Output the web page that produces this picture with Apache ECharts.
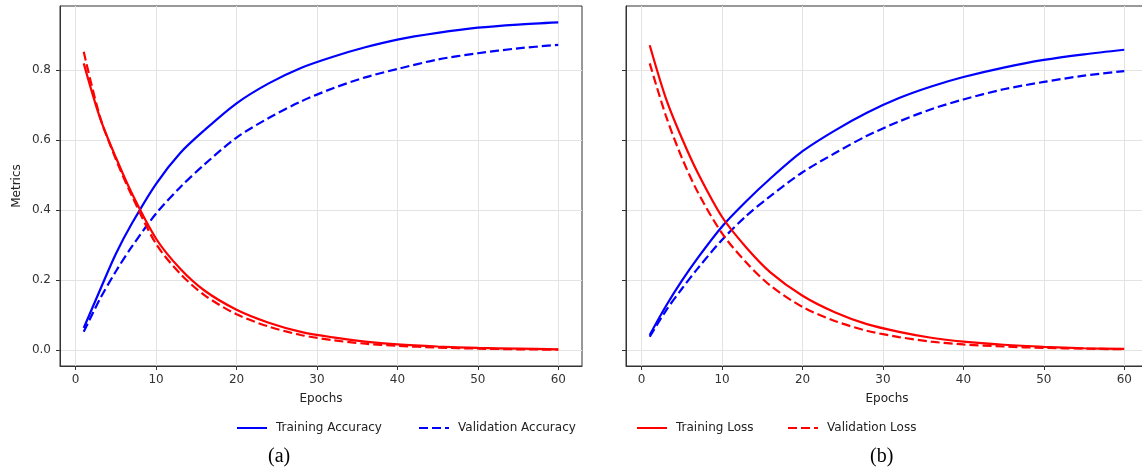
<!DOCTYPE html>
<html>
<head>
<meta charset="utf-8">
<script src="https://cdn.jsdelivr.net/npm/echarts@6/dist/echarts.min.js"></script>
<style>
  html, body { margin: 0; padding: 0; background: #fff; }
  #chart { width: 1142px; height: 475px; }
</style>
</head>
<body>
<div id="chart"></div>
<script>
// values
var epochs = [1, 3, 5, 7, 10, 13, 16, 20, 24, 28, 32, 36, 40, 45, 50, 55, 60];

// (a)
var aTrainAcc  = [0.063, 0.17, 0.275, 0.362, 0.475, 0.563, 0.628, 0.705, 0.762, 0.806, 0.838, 0.865, 0.887, 0.906, 0.921, 0.93, 0.936];
var aValAcc    = [0.052, 0.145, 0.225, 0.296, 0.39, 0.465, 0.53, 0.607, 0.663, 0.71, 0.748, 0.779, 0.803, 0.83, 0.848, 0.862, 0.872];
var aTrainLoss = [0.819, 0.665, 0.55, 0.447, 0.318, 0.232, 0.17, 0.115, 0.078, 0.052, 0.036, 0.024, 0.016, 0.01, 0.006, 0.004, 0.002];
var aValLoss   = [0.852, 0.668, 0.545, 0.44, 0.303, 0.218, 0.157, 0.102, 0.067, 0.043, 0.028, 0.018, 0.012, 0.007, 0.004, 0.002, 0.001];

// (b)
var bTrainAcc  = [0.043, 0.125, 0.198, 0.264, 0.353, 0.425, 0.49, 0.568, 0.627, 0.678, 0.72, 0.753, 0.78, 0.807, 0.829, 0.845, 0.858];
var bValAcc    = [0.038, 0.112, 0.175, 0.234, 0.315, 0.383, 0.44, 0.508, 0.562, 0.612, 0.653, 0.688, 0.716, 0.745, 0.766, 0.784, 0.797];
var bTrainLoss = [0.871, 0.72, 0.605, 0.505, 0.38, 0.293, 0.222, 0.155, 0.108, 0.074, 0.052, 0.035, 0.024, 0.015, 0.009, 0.005, 0.003];
var bValLoss   = [0.819, 0.67, 0.549, 0.45, 0.333, 0.25, 0.184, 0.123, 0.083, 0.055, 0.037, 0.024, 0.016, 0.01, 0.006, 0.004, 0.002];

var names = ['Training Accuracy', 'Validation Accuracy', 'Training Loss', 'Validation Loss'];
var xTicks = [0, 10, 20, 30, 40, 50, 60];
var yTicks = [0, 0.2, 0.4, 0.6, 0.8];

function pairs(vals) {
    return epochs.map(function (e, i) { return [e, vals[i]]; });
}

var font = 'DejaVu Sans';
var blue = '#0000ff';
var red = '#ff0000';
var dash = [9, 4];

function xAxisFor(idx) {
    return {
        type: 'value',
        gridIndex: idx,
        min: -1.95,
        max: 62.95,
        name: 'Epochs',
        nameLocation: 'middle',
        nameGap: 27,
        nameTextStyle: {color: '#222', fontFamily: font, fontSize: 12},
        axisLine: {show: true, onZero: false, lineStyle: {color: '#333', width: 1}},
        axisTick: {show: true, length: 4, customValues: xTicks, lineStyle: {color: '#333'}},
        axisLabel: {customValues: xTicks, margin: 8, color: '#333', fontFamily: font, fontSize: 12},
        splitLine: {show: true, lineStyle: {color: '#e3e3e3', width: 1}}
    };
}

function yAxisFor(idx) {
    return {
        type: 'value',
        gridIndex: idx,
        min: -0.0457,
        max: 0.983,
        name: idx === 0 ? 'Metrics' : '',
        nameLocation: 'middle',
        nameGap: 37,
        nameTextStyle: {color: '#222', fontFamily: font, fontSize: 12},
        axisLine: {show: true, onZero: false, lineStyle: {color: '#333', width: 1}},
        axisTick: {show: true, length: 4, customValues: yTicks, lineStyle: {color: '#333'}},
        axisLabel: {
            show: idx === 0,
            customValues: yTicks,
            margin: 9,
            color: '#333',
            fontFamily: font,
            fontSize: 12,
            formatter: function (v) { return v.toFixed(1); }
        },
        splitLine: {show: true, lineStyle: {color: '#e3e3e3', width: 1}}
    };
}

function line(name, idx, vals, color, type) {
    return {
        name: name,
        type: 'line',
        xAxisIndex: idx,
        yAxisIndex: idx,
        data: pairs(vals),
        smooth: 0.3,
        symbol: 'none',
        lineStyle: {color: color, width: 2.2, type: type},
        itemStyle: {color: color}
    };
}

function legendFor(name, left) {
    return {
        data: [name],
        left: left,
        top: 422,
        padding: 0,
        itemWidth: 30,
        itemHeight: 14,
        itemStyle: {opacity: 0},
        textStyle: {color: '#222', fontFamily: font, fontSize: 12, padding: [0, 0, 0, 4]}
    };
}

var option = {
    backgroundColor: '#ffffff',
    animation: false,
    grid: [
        {left: 60, top: 6, width: 522, height: 360, outerBoundsMode: 'none', show: true, borderColor: '#333', borderWidth: 1, backgroundColor: 'transparent'},
        {left: 626, top: 6, width: 522, height: 360, outerBoundsMode: 'none', show: true, borderColor: '#333', borderWidth: 1, backgroundColor: 'transparent'}
    ],
    xAxis: [xAxisFor(0), xAxisFor(1)],
    yAxis: [yAxisFor(0), yAxisFor(1)],
    legend: [
        legendFor(names[0], 236),
        legendFor(names[1], 418),
        legendFor(names[2], 636),
        legendFor(names[3], 787)
    ],
    graphic: [
        {type: 'text', left: 268, top: 447, style: {text: '(a)', font: '20px "Liberation Serif"', fill: '#000'}},
        {type: 'text', left: 870, top: 447, style: {text: '(b)', font: '20px "Liberation Serif"', fill: '#000'}}
    ],
    series: [
        line(names[0], 0, aTrainAcc, blue, 'solid'),
        line(names[1], 0, aValAcc, blue, dash),
        line(names[2], 0, aTrainLoss, red, 'solid'),
        line(names[3], 0, aValLoss, red, dash),
        line(names[0], 1, bTrainAcc, blue, 'solid'),
        line(names[1], 1, bValAcc, blue, dash),
        line(names[2], 1, bTrainLoss, red, 'solid'),
        line(names[3], 1, bValLoss, red, dash)
    ]
};

var chart = echarts.init(document.getElementById('chart'));
chart.setOption(option);
</script>
</body>
</html>
